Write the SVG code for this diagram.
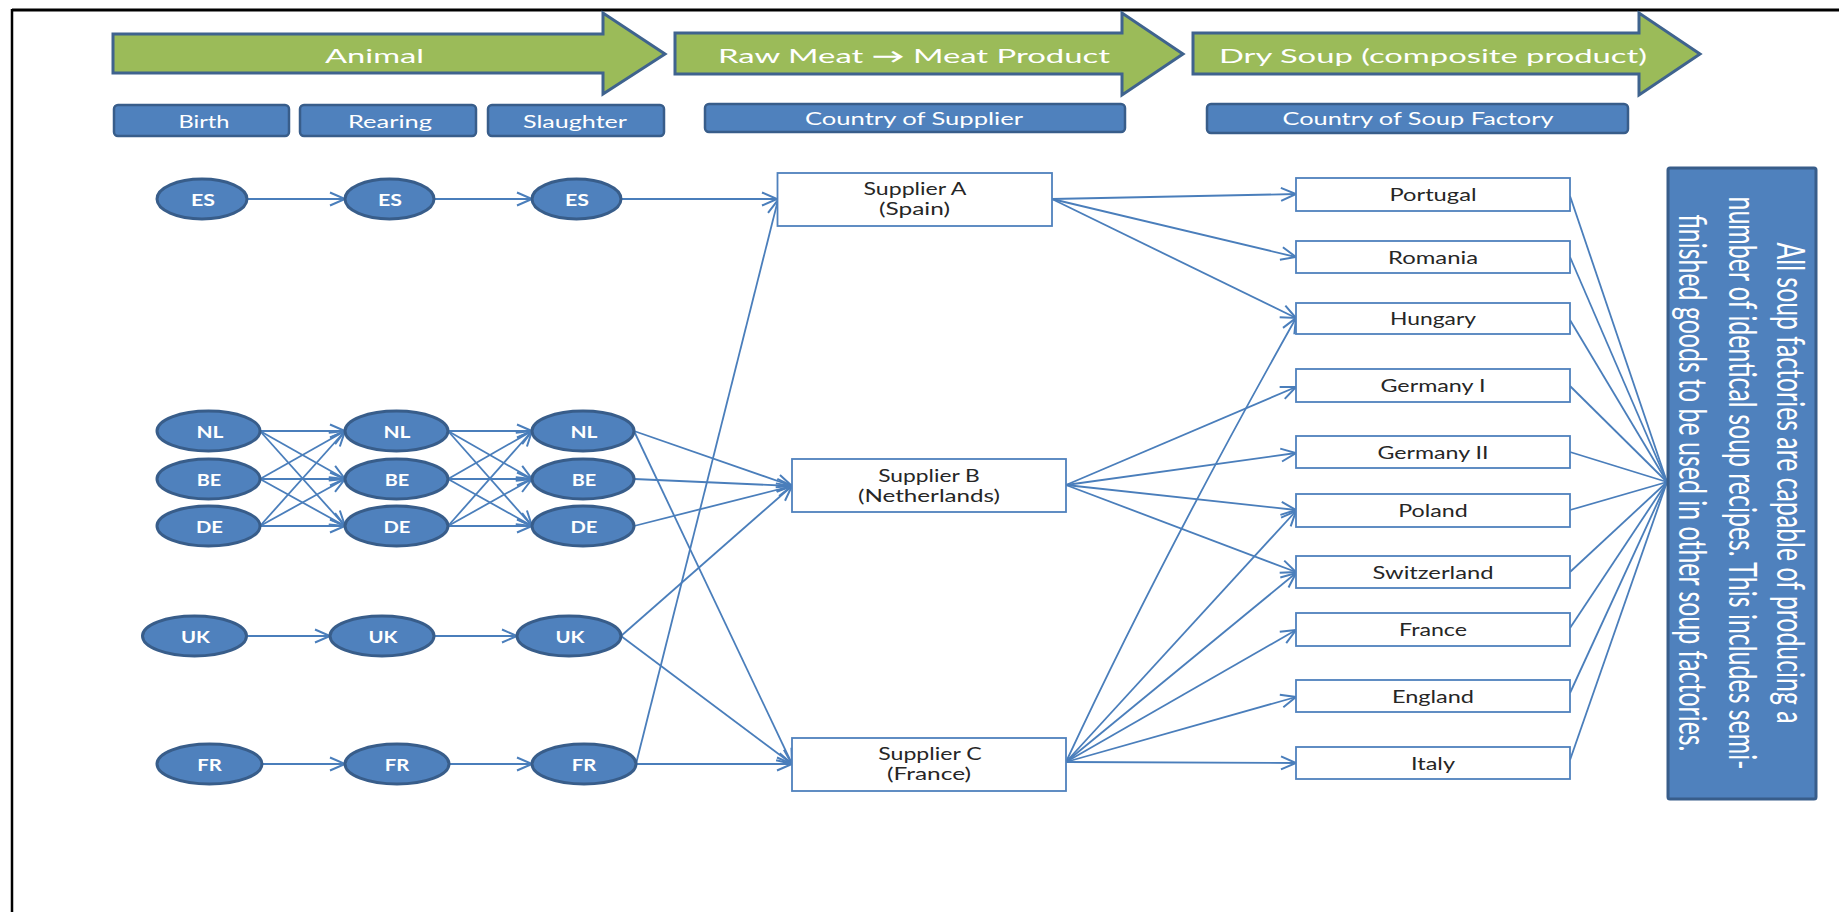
<svg xmlns="http://www.w3.org/2000/svg" width="1839" height="912" viewBox="0 0 1839 912">
<defs>
<style>
.hdr{fill:#9BBB59;stroke:#3F638E;stroke-width:3;stroke-linejoin:miter}
.tab{fill:#4F81BD;stroke:#385D8A;stroke-width:2.5}
.ell{fill:#4F81BD;stroke:#385D8A;stroke-width:3}
.box{fill:#FFFFFF;stroke:#4F81BD;stroke-width:1.8}
.note{fill:#4F81BD;stroke:#385D8A;stroke-width:3}
.wt{font-family:Lato,"Open Sans","Liberation Sans",sans-serif;fill:#FFFFFF;text-anchor:middle}
.dt{font-family:Lato,"Open Sans","Liberation Sans",sans-serif;fill:#262626;text-anchor:middle;font-size:17px}
.ht{font-size:20px}
.st{font-size:18px}
.et{font-size:17px}
.eb{font-size:17px;font-weight:bold}
.vt{font-size:22px}
.cn{fill:none;stroke:#4A7EBB;stroke-width:1.8}
.ar{marker-end:url(#ah)}
</style>
<marker id="ah" markerUnits="userSpaceOnUse" viewBox="0 0 20 16" markerWidth="20" markerHeight="16" refX="17" refY="8" orient="auto">
<path d="M2,1.5 L17,8 L2,14.5" fill="none" stroke="#4A7EBB" stroke-width="2"/>
</marker>
</defs>
<rect width="1839" height="912" fill="#FFFFFF"/>
<g id="frame" fill="none" stroke="#000000">
<line x1="12" y1="10" x2="1839" y2="10" stroke-width="3"/>
<line x1="12" y1="9" x2="12" y2="912" stroke-width="2.5"/>
</g>

<g id="header-animal">
<polygon class="hdr" points="113,34 603,34 603,13 665,54 603,94 603,73 113,73"/>
<text class="wt ht" x="374.5" y="63" textLength="99" lengthAdjust="spacingAndGlyphs">Animal</text>
</g>
<g id="header-meat">
<polygon class="hdr" points="675,33 1122,33 1122,13 1183,54 1122,95 1122,74 675,74"/>
<text class="wt ht" x="914" y="63" textLength="392" lengthAdjust="spacingAndGlyphs">Raw Meat <tspan font-weight="bold">→</tspan> Meat Product</text>
</g>
<g id="header-soup">
<polygon class="hdr" points="1193,33 1639,33 1639,13 1700,54 1639,95 1639,74 1193,74"/>
<text class="wt ht" x="1433" y="63" textLength="428" lengthAdjust="spacingAndGlyphs">Dry Soup (composite product)</text>
</g>

<g id="tab-birth"><rect class="tab" x="114" y="105" width="175" height="31" rx="4"/><text class="wt st" x="204" y="128" textLength="51" lengthAdjust="spacingAndGlyphs">Birth</text></g>
<g id="tab-rearing"><rect class="tab" x="300" y="105" width="176" height="31" rx="4"/><text class="wt st" x="390" y="128" textLength="84" lengthAdjust="spacingAndGlyphs">Rearing</text></g>
<g id="tab-slaughter"><rect class="tab" x="488" y="105" width="176" height="31" rx="4"/><text class="wt st" x="575" y="128" textLength="104" lengthAdjust="spacingAndGlyphs">Slaughter</text></g>
<g id="tab-supplier"><rect class="tab" x="705" y="104" width="420" height="28" rx="4"/><text class="wt et" x="914" y="124.5" textLength="218" lengthAdjust="spacingAndGlyphs">Country of Supplier</text></g>
<g id="tab-factory"><rect class="tab" x="1207" y="104" width="421" height="29" rx="4"/><text class="wt et" x="1418" y="125" textLength="271" lengthAdjust="spacingAndGlyphs">Country of Soup Factory</text></g>

<g id="connectors">
<line class="cn ar" x1="247" y1="199" x2="345" y2="199"/>
<line class="cn ar" x1="434" y1="199" x2="532" y2="199"/>
<line class="cn ar" x1="621" y1="199" x2="777" y2="199"/>

<line class="cn ar" x1="260" y1="431" x2="345" y2="431"/>
<line class="cn ar" x1="260" y1="431" x2="345" y2="479"/>
<line class="cn ar" x1="260" y1="431" x2="345" y2="526"/>
<line class="cn ar" x1="260" y1="479" x2="345" y2="431"/>
<line class="cn ar" x1="260" y1="479" x2="345" y2="479"/>
<line class="cn ar" x1="260" y1="479" x2="345" y2="526"/>
<line class="cn ar" x1="260" y1="526" x2="345" y2="431"/>
<line class="cn ar" x1="260" y1="526" x2="345" y2="479"/>
<line class="cn ar" x1="260" y1="526" x2="345" y2="526"/>

<line class="cn ar" x1="448" y1="431" x2="532" y2="431"/>
<line class="cn ar" x1="448" y1="431" x2="532" y2="479"/>
<line class="cn ar" x1="448" y1="431" x2="532" y2="526"/>
<line class="cn ar" x1="448" y1="479" x2="532" y2="431"/>
<line class="cn ar" x1="448" y1="479" x2="532" y2="479"/>
<line class="cn ar" x1="448" y1="479" x2="532" y2="526"/>
<line class="cn ar" x1="448" y1="526" x2="532" y2="431"/>
<line class="cn ar" x1="448" y1="526" x2="532" y2="479"/>
<line class="cn ar" x1="448" y1="526" x2="532" y2="526"/>

<line class="cn ar" x1="634" y1="431" x2="792" y2="486"/>
<line class="cn ar" x1="634" y1="479" x2="792" y2="486"/>
<line class="cn ar" x1="634" y1="526" x2="792" y2="486"/>
<line class="cn ar" x1="634" y1="431" x2="792" y2="764"/>

<line class="cn ar" x1="246" y1="636" x2="330" y2="636"/>
<line class="cn ar" x1="434" y1="636" x2="517" y2="636"/>
<line class="cn ar" x1="621" y1="636" x2="792" y2="486"/>
<line class="cn ar" x1="621" y1="636" x2="792" y2="764"/>

<line class="cn ar" x1="262" y1="764" x2="345" y2="764"/>
<line class="cn ar" x1="449" y1="764" x2="532" y2="764"/>
<line class="cn ar" x1="636" y1="764" x2="792" y2="764"/>
<line class="cn ar" x1="636" y1="764" x2="778" y2="200"/>

<line class="cn ar" x1="1052" y1="199" x2="1296" y2="194"/>
<line class="cn ar" x1="1052" y1="199" x2="1296" y2="257"/>
<line class="cn ar" x1="1052" y1="199" x2="1296" y2="318"/>

<line class="cn ar" x1="1066" y1="485" x2="1296" y2="387"/>
<line class="cn ar" x1="1066" y1="485" x2="1296" y2="453"/>
<line class="cn ar" x1="1066" y1="485" x2="1296" y2="510"/>
<line class="cn ar" x1="1066" y1="485" x2="1296" y2="572"/>

<path class="cn ar" d="M1066,762 Q1160,560 1296,318"/>
<line class="cn ar" x1="1066" y1="762" x2="1296" y2="511"/>
<line class="cn ar" x1="1066" y1="762" x2="1296" y2="573"/>
<line class="cn ar" x1="1066" y1="762" x2="1296" y2="630"/>
<line class="cn ar" x1="1066" y1="762" x2="1296" y2="697"/>
<line class="cn ar" x1="1066" y1="762" x2="1296" y2="763"/>

<line class="cn" x1="1570" y1="196" x2="1667" y2="482"/>
<line class="cn" x1="1570" y1="257" x2="1667" y2="482"/>
<line class="cn" x1="1570" y1="320" x2="1667" y2="482"/>
<line class="cn" x1="1570" y1="386" x2="1667" y2="482"/>
<line class="cn" x1="1570" y1="452" x2="1667" y2="482"/>
<line class="cn" x1="1570" y1="510" x2="1667" y2="482"/>
<line class="cn" x1="1570" y1="572" x2="1667" y2="482"/>
<line class="cn" x1="1570" y1="628" x2="1667" y2="482"/>
<line class="cn" x1="1570" y1="693" x2="1667" y2="482"/>
<line class="cn" x1="1570" y1="760" x2="1667" y2="482"/>
</g>

<g id="es-birth"><ellipse class="ell" cx="202" cy="199" rx="45" ry="20"/><text class="wt eb" x="203" y="205.5" textLength="24" lengthAdjust="spacingAndGlyphs">ES</text></g>
<g id="es-rearing"><ellipse class="ell" cx="389.5" cy="199" rx="44.5" ry="20"/><text class="wt eb" x="390" y="205.5" textLength="24" lengthAdjust="spacingAndGlyphs">ES</text></g>
<g id="es-slaughter"><ellipse class="ell" cx="576.5" cy="199" rx="44.5" ry="20"/><text class="wt eb" x="577" y="205.5" textLength="24" lengthAdjust="spacingAndGlyphs">ES</text></g>

<g id="nl-birth"><ellipse class="ell" cx="208.5" cy="431" rx="51.5" ry="20"/><text class="wt eb" x="210" y="437.5" textLength="27" lengthAdjust="spacingAndGlyphs">NL</text></g>
<g id="nl-rearing"><ellipse class="ell" cx="396.5" cy="431" rx="51.5" ry="20"/><text class="wt eb" x="397" y="437.5" textLength="27" lengthAdjust="spacingAndGlyphs">NL</text></g>
<g id="nl-slaughter"><ellipse class="ell" cx="583" cy="431" rx="51" ry="20"/><text class="wt eb" x="584" y="437.5" textLength="27" lengthAdjust="spacingAndGlyphs">NL</text></g>

<g id="be-birth"><ellipse class="ell" cx="208.5" cy="479" rx="51.5" ry="20"/><text class="wt eb" x="209" y="485.5" textLength="24.5" lengthAdjust="spacingAndGlyphs">BE</text></g>
<g id="be-rearing"><ellipse class="ell" cx="396.5" cy="479" rx="51.5" ry="20"/><text class="wt eb" x="397" y="485.5" textLength="24.5" lengthAdjust="spacingAndGlyphs">BE</text></g>
<g id="be-slaughter"><ellipse class="ell" cx="583" cy="479" rx="51" ry="20"/><text class="wt eb" x="584" y="485.5" textLength="24.5" lengthAdjust="spacingAndGlyphs">BE</text></g>

<g id="de-birth"><ellipse class="ell" cx="208.5" cy="526" rx="51.5" ry="20"/><text class="wt eb" x="209.5" y="532.5" textLength="27" lengthAdjust="spacingAndGlyphs">DE</text></g>
<g id="de-rearing"><ellipse class="ell" cx="396.5" cy="526" rx="51.5" ry="20"/><text class="wt eb" x="397" y="532.5" textLength="27" lengthAdjust="spacingAndGlyphs">DE</text></g>
<g id="de-slaughter"><ellipse class="ell" cx="583" cy="526" rx="51" ry="20"/><text class="wt eb" x="584" y="532.5" textLength="27" lengthAdjust="spacingAndGlyphs">DE</text></g>

<g id="uk-birth"><ellipse class="ell" cx="194.5" cy="636" rx="52" ry="20"/><text class="wt eb" x="195.5" y="642.5" textLength="29" lengthAdjust="spacingAndGlyphs">UK</text></g>
<g id="uk-rearing"><ellipse class="ell" cx="382" cy="636" rx="52" ry="20"/><text class="wt eb" x="383" y="642.5" textLength="29" lengthAdjust="spacingAndGlyphs">UK</text></g>
<g id="uk-slaughter"><ellipse class="ell" cx="569" cy="636" rx="52" ry="20"/><text class="wt eb" x="570" y="642.5" textLength="29" lengthAdjust="spacingAndGlyphs">UK</text></g>

<g id="fr-birth"><ellipse class="ell" cx="209.5" cy="764" rx="52.5" ry="20"/><text class="wt eb" x="209.5" y="770.5" textLength="24.5" lengthAdjust="spacingAndGlyphs">FR</text></g>
<g id="fr-rearing"><ellipse class="ell" cx="397" cy="764" rx="52" ry="20"/><text class="wt eb" x="397" y="770.5" textLength="24.5" lengthAdjust="spacingAndGlyphs">FR</text></g>
<g id="fr-slaughter"><ellipse class="ell" cx="584" cy="764" rx="52" ry="20"/><text class="wt eb" x="584" y="770.5" textLength="24.5" lengthAdjust="spacingAndGlyphs">FR</text></g>

<g id="supplier-a"><rect class="box" x="777.5" y="173" width="274.5" height="53"/>
<text class="dt" x="915" y="195" textLength="103" lengthAdjust="spacingAndGlyphs">Supplier A</text>
<text class="dt" x="914.5" y="214.5" textLength="71" lengthAdjust="spacingAndGlyphs">(Spain)</text></g>
<g id="supplier-b"><rect class="box" x="792" y="459" width="274" height="53"/>
<text class="dt" x="929" y="482" textLength="101.5" lengthAdjust="spacingAndGlyphs">Supplier B</text>
<text class="dt" x="929" y="501.5" textLength="142" lengthAdjust="spacingAndGlyphs">(Netherlands)</text></g>
<g id="supplier-c"><rect class="box" x="792" y="738" width="274" height="53"/>
<text class="dt" x="930" y="760" textLength="103.5" lengthAdjust="spacingAndGlyphs">Supplier C</text>
<text class="dt" x="929" y="779.5" textLength="84" lengthAdjust="spacingAndGlyphs">(France)</text></g>

<g id="f-portugal"><rect class="box" x="1296" y="178" width="274" height="33"/><text class="dt" x="1433" y="201" textLength="87" lengthAdjust="spacingAndGlyphs">Portugal</text></g>
<g id="f-romania"><rect class="box" x="1296" y="241" width="274" height="32"/><text class="dt" x="1433" y="263.5" textLength="90" lengthAdjust="spacingAndGlyphs">Romania</text></g>
<g id="f-hungary"><rect class="box" x="1296" y="303" width="274" height="31"/><text class="dt" x="1433" y="325" textLength="86" lengthAdjust="spacingAndGlyphs">Hungary</text></g>
<g id="f-germany1"><rect class="box" x="1296" y="369" width="274" height="33"/><text class="dt" x="1433" y="392" textLength="105" lengthAdjust="spacingAndGlyphs">Germany I</text></g>
<g id="f-germany2"><rect class="box" x="1296" y="436" width="274" height="32"/><text class="dt" x="1433" y="458.5" textLength="111" lengthAdjust="spacingAndGlyphs">Germany II</text></g>
<g id="f-poland"><rect class="box" x="1296" y="494" width="274" height="33"/><text class="dt" x="1433" y="517" textLength="69.5" lengthAdjust="spacingAndGlyphs">Poland</text></g>
<g id="f-switzerland"><rect class="box" x="1296" y="556" width="274" height="32"/><text class="dt" x="1433" y="578.5" textLength="121" lengthAdjust="spacingAndGlyphs">Switzerland</text></g>
<g id="f-france"><rect class="box" x="1296" y="613" width="274" height="33"/><text class="dt" x="1433" y="636" textLength="68" lengthAdjust="spacingAndGlyphs">France</text></g>
<g id="f-england"><rect class="box" x="1296" y="680" width="274" height="32"/><text class="dt" x="1433" y="702.5" textLength="82" lengthAdjust="spacingAndGlyphs">England</text></g>
<g id="f-italy"><rect class="box" x="1296" y="747" width="274" height="32"/><text class="dt" x="1433" y="769.5" textLength="44" lengthAdjust="spacingAndGlyphs">Italy</text></g>

<g id="note">
<rect class="note" x="1668" y="168" width="148" height="631" rx="2"/>
<text class="wt vt" transform="translate(1777,483) rotate(90) scale(1,1.75)" x="0" y="0" textLength="481" lengthAdjust="spacingAndGlyphs">All soup factories are capable of producing a</text>
<text class="wt vt" transform="translate(1729,483) rotate(90) scale(1,1.75)" x="0" y="0" textLength="573" lengthAdjust="spacingAndGlyphs">number of identical soup recipes. This includes semi-</text>
<text class="wt vt" transform="translate(1679,483) rotate(90) scale(1,1.75)" x="0" y="0" textLength="537" lengthAdjust="spacingAndGlyphs">finished goods to be used in other soup factories.</text>
</g>
</svg>
